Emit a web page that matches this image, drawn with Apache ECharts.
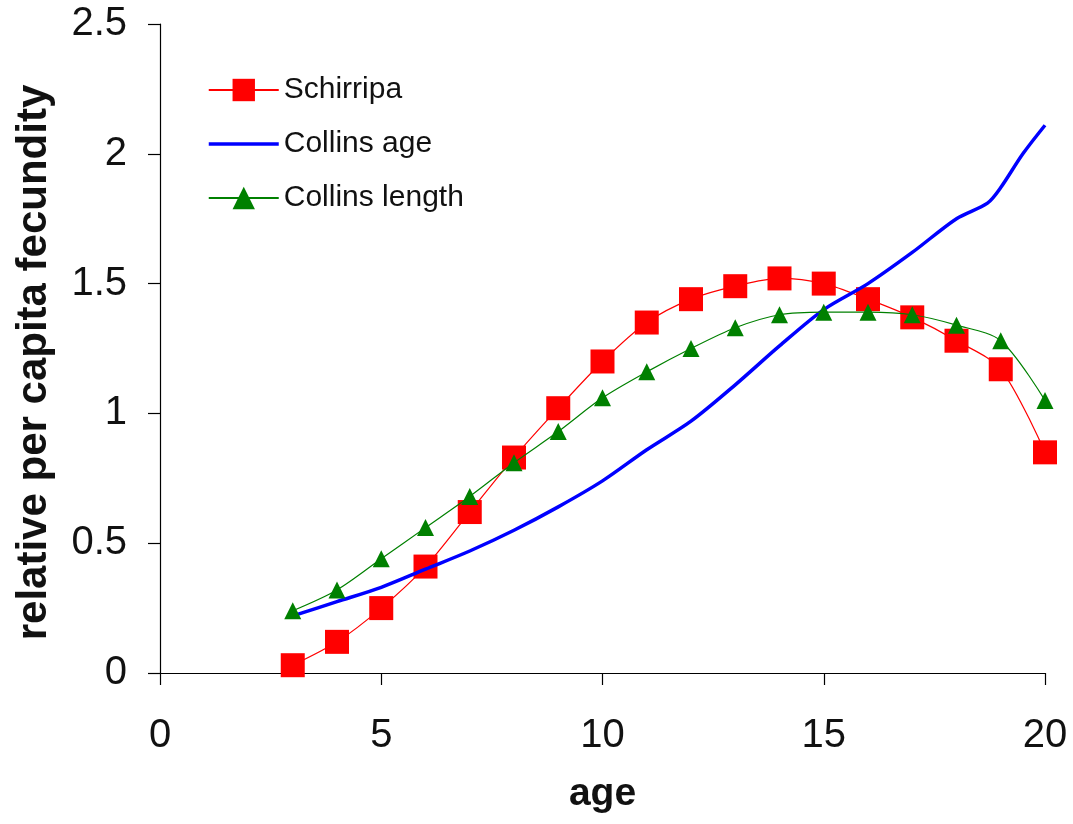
<!DOCTYPE html>
<html>
<head>
<meta charset="utf-8">
<script src="https://cdn.jsdelivr.net/npm/echarts@6/dist/echarts.min.js"></script>
<style>
  html, body { margin: 0; padding: 0; background: #fff; }
  #chart { width: 1073px; height: 824px; }
</style>
</head>
<body>
<div id="chart"></div>
<script>
// ages for the point series
const ages = [3, 4, 5, 6, 7, 8, 9, 10, 11, 12, 13, 14, 15, 16, 17, 18, 19, 20];
const schirripa = [0.03, 0.12, 0.25, 0.41, 0.62, 0.83, 1.02, 1.20, 1.35, 1.44, 1.49, 1.52, 1.50, 1.44, 1.37, 1.28, 1.17, 0.85];
const collinsLength = [0.24, 0.32, 0.44, 0.56, 0.68, 0.81, 0.93, 1.06, 1.16, 1.25, 1.33, 1.38, 1.39, 1.39, 1.38, 1.34, 1.28, 1.05];
// blue line is denser near the end
const collinsAgeX = [3, 4, 5, 6, 7, 8, 9, 10, 11, 12, 13, 14, 15, 16, 17, 18, 18.7, 19, 19.5, 20];
const collinsAgeY = [0.22, 0.275, 0.33, 0.40, 0.47, 0.55, 0.64, 0.74, 0.86, 0.97, 1.11, 1.26, 1.40, 1.50, 1.62, 1.75, 1.81, 1.87, 2.00, 2.11];

const xTicks = [0, 5, 10, 15, 20];
const yTicks = [0, 0.5, 1, 1.5, 2, 2.5];

function pairs(xs, ys) {
  return xs.map((x, i) => [x, ys[i]]);
}

const chart = echarts.init(document.getElementById('chart'));
const font = 'Liberation Sans, Arial, sans-serif';

chart.setOption({
  animation: false,
  backgroundColor: '#fff',
  grid: { left: 160, right: 28, top: 24, bottom: 151 },
  legend: {
    orient: 'vertical',
    left: 207,
    top: 75,
    padding: 0,
    itemWidth: 70,
    itemHeight: 28,
    itemGap: 24,
    textStyle: { fontFamily: font, fontSize: 30, color: '#111' },
    data: [
      'Schirripa',
      { name: 'Collins age', itemStyle: { opacity: 0 }, lineStyle: { width: 3.5 } },
      'Collins length'
    ]
  },
  xAxis: {
    type: 'value',
    min: xTicks[0],
    max: xTicks[xTicks.length - 1],
    interval: 5,
    name: 'age',
    nameLocation: 'middle',
    nameGap: 102,
    nameTextStyle: { fontFamily: font, fontSize: 39, fontWeight: 'bold', color: '#111' },
    axisLine: { lineStyle: { color: '#000', width: 1.2 } },
    axisTick: { show: true, length: 12, lineStyle: { color: '#000', width: 1.2 } },
    axisLabel: { fontFamily: font, fontSize: 40, color: '#111', margin: 43 },
    splitLine: { show: false }
  },
  yAxis: {
    type: 'value',
    min: yTicks[0],
    max: yTicks[yTicks.length - 1],
    interval: 0.5,
    name: 'relative per capita fecundity',
    nameLocation: 'middle',
    nameGap: 105,
    nameTextStyle: { fontFamily: font, fontSize: 42, fontWeight: 'bold', color: '#111', padding: [0, 28, 0, 0] },
    axisLine: { show: true, lineStyle: { color: '#000', width: 1.2 } },
    axisTick: { show: true, length: 12, lineStyle: { color: '#000', width: 1.2 } },
    axisLabel: { fontFamily: font, fontSize: 40, color: '#111', margin: 33 },
    splitLine: { show: false }
  },
  series: [
    {
      name: 'Schirripa',
      type: 'line',
      data: pairs(ages, schirripa),
      smooth: 0.3,
      symbol: 'rect',
      symbolSize: 24,
      lineStyle: { color: '#ff0000', width: 1.2 },
      itemStyle: { color: '#ff0000' },
      z: 3
    },
    {
      name: 'Collins age',
      type: 'line',
      data: pairs(collinsAgeX, collinsAgeY),
      smooth: 0.3,
      showSymbol: false,
      lineStyle: { color: '#0000ff', width: 3.5 },
      itemStyle: { color: '#0000ff' },
      z: 4
    },
    {
      name: 'Collins length',
      type: 'line',
      data: pairs(ages, collinsLength),
      smooth: 0.3,
      symbol: 'triangle',
      symbolSize: 17,
      lineStyle: { color: '#008000', width: 1.2 },
      itemStyle: { color: '#008000' },
      z: 5
    }
  ]
});
</script>
</body>
</html>
